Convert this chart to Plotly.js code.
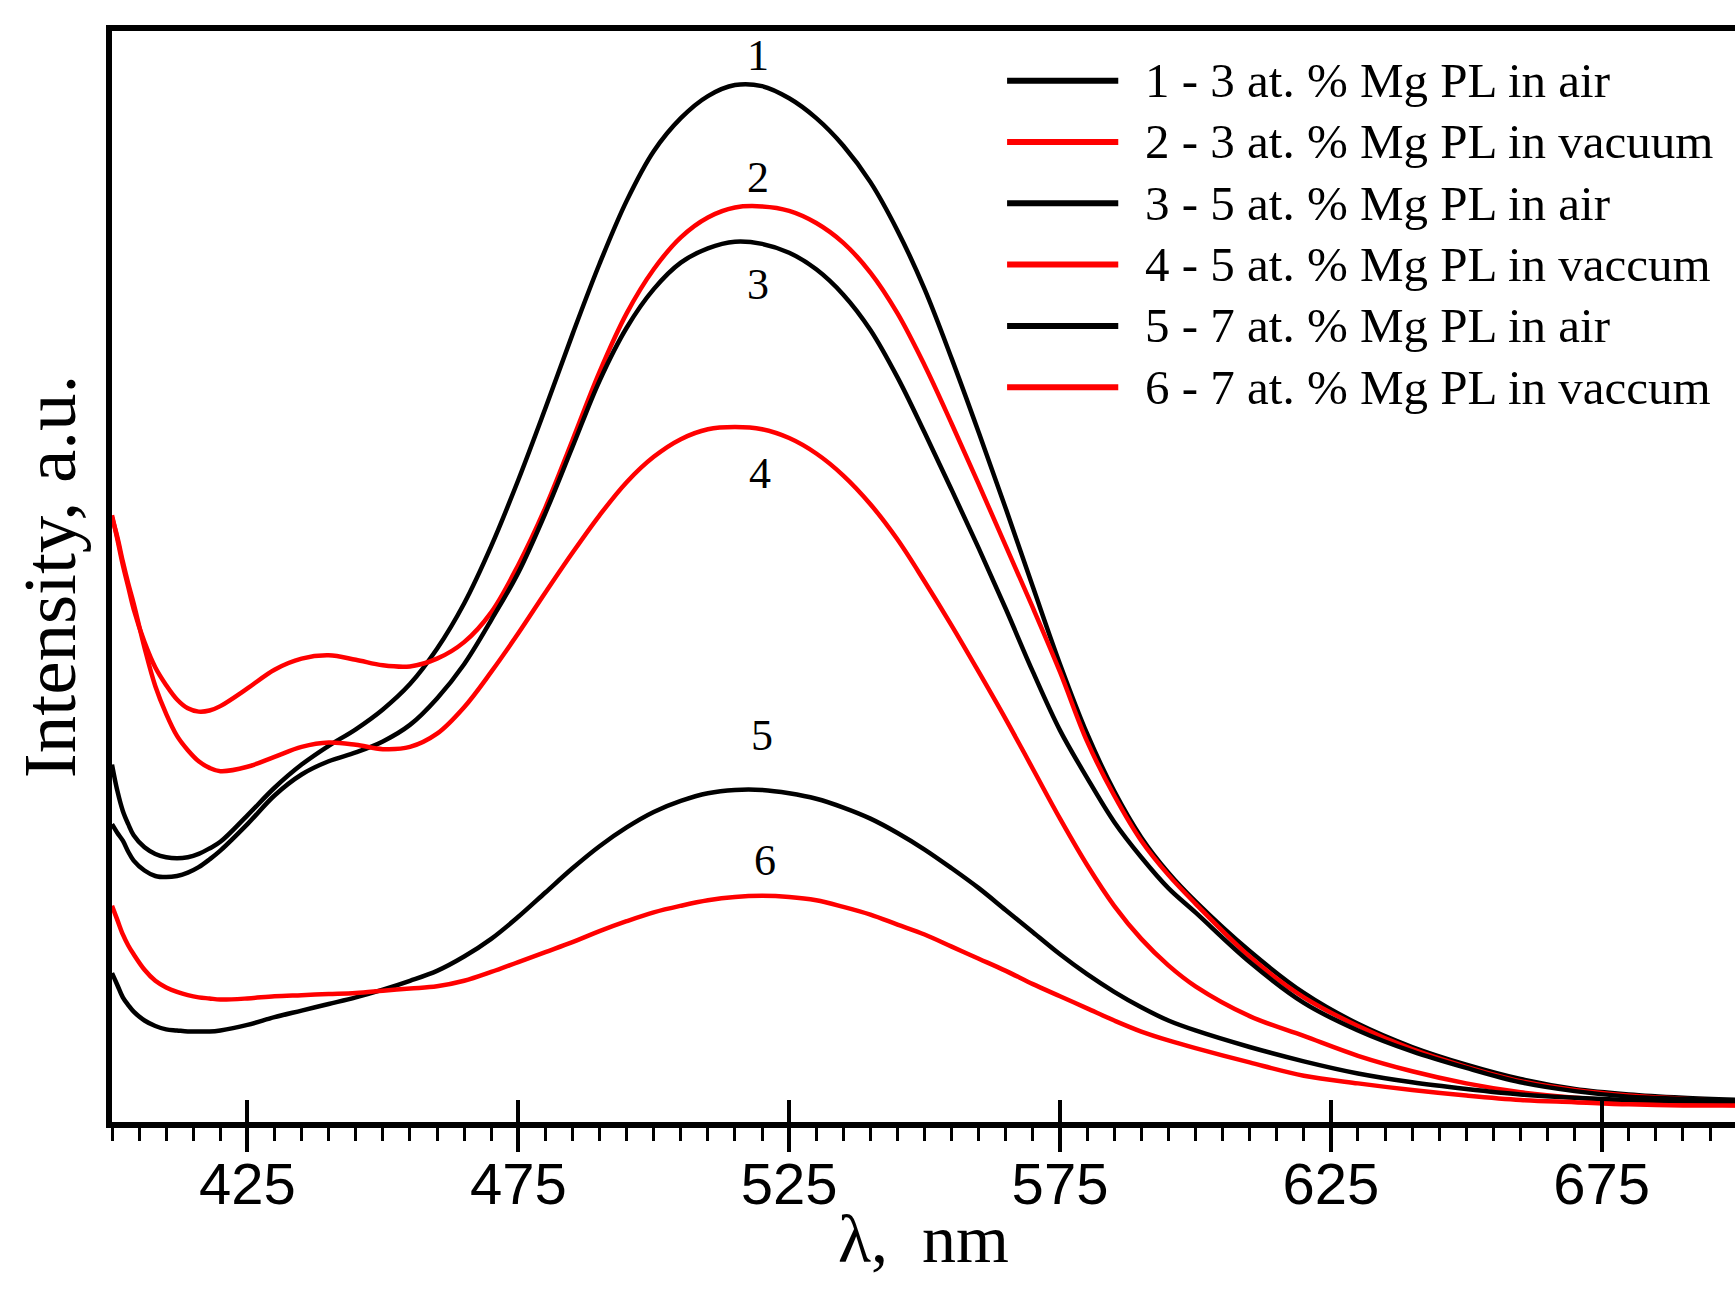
<!DOCTYPE html>
<html>
<head>
<meta charset="utf-8">
<script src="https://cdn.plot.ly/plotly-3.0.1.min.js"></script>
<style>html,body{margin:0;padding:0;background:#fff;}#chart{width:1735px;height:1302px;}</style>
</head>
<body>
<div id="chart"></div>
<script>
// Wavelength grid, nm
const wavelength = [400,401,402,403,404,406,408,410,412,414,416,418,420,425,430,435,440,445,450,455,460,465,470,475,480,485,490,495,500,505,510,515,520,525,530,535,540,545,550,555,560,565,570,575,580,585,590,595,600,610,620,630,640,650,660,670,680,690,700];

// Intensities, arbitrary units
const pl3Air = [324,300,282,270,260,249,243,240,239,240,243,248,254,278,303,324,341,356,374,397,429,470,522,582,647,714,778,835,880,910,930,940,939,928,910,885,852,808,755,692,625,556,485,415,352,300,258,226,200,155,117,89,68,52,39,30,25,22,20];
const pl3Vac = [550,528,505,485,465,435,412,396,383,375,372,373,377,393,410,420,423,419,414,413,420,435,462,505,557,618,680,733,773,802,820,829,830,826,815,797,770,733,686,633,578,522,466,408,345,296,255,224,198,150,113,87,66,50,37,29,24,21,18];
const pl5Air = [270,262,255,245,237,228,223,222,223,226,231,238,246,270,296,315,327,335,345,360,384,415,455,498,552,612,672,720,755,779,792,798,796,788,773,750,718,675,625,573,520,465,408,355,312,272,240,212,190,145,108,83,64,49,36,28,23,21,19];
const pl5Vac = [548,530,508,488,470,430,395,370,350,337,327,321,318,322,331,340,344,342,338,340,352,376,408,443,480,516,550,580,603,619,628,630,628,620,606,586,560,528,490,450,408,365,320,275,233,196,166,142,123,96,78,60,46,35,27,22,19,17,15];
const pl7Air = [135,124,113,106,100,92,87,84,83,82,82,82,83,88,95,101,107,113,120,128,137,150,166,186,208,230,250,267,281,291,298,301,301,298,293,285,275,262,247,230,212,192,172,152,134,118,104,92,83,68,55,44,36,30,25,22,20,19,18];
const pl7Vac = [196,183,170,160,152,138,128,122,118,115,113,112,111,112,114,115,116,117,119,121,123,128,136,145,154,163,173,182,190,196,201,204,205,204,201,195,188,179,170,159,148,137,125,114,103,92,82,74,67,54,42,35,29,24,20,18,16,15,15];

const seriesNames  = ["1 - 3 at. % Mg PL in air","2 - 3 at. % Mg PL in vacuum","3 - 5 at. % Mg PL in air","4 - 5 at. % Mg PL in vaccum","5 - 7 at. % Mg PL in air","6 - 7 at. % Mg PL in vaccum"];
const seriesData   = [pl3Air, pl3Vac, pl5Air, pl5Vac, pl7Air, pl7Vac];
const seriesColors = ["#000000","#ff0000","#000000","#ff0000","#000000","#ff0000"];

// Curve number labels
const curveLabels = ["1","2","3","4","5","6"];
const labelX = [519.3,519.3,519.3,519.6,520,520.5];
const labelY = [967,856,759,588,350,237];

const serif = "Liberation Serif, Times New Roman, serif";
const sans  = "Liberation Sans, Arial, sans-serif";

const traces = seriesData.map((y, i) => ({
  type: "scatter", mode: "lines", x: wavelength, y: y, name: seriesNames[i],
  line: {color: seriesColors[i], width: 4.5, shape: "spline", smoothing: 1},
  showlegend: false, hoverinfo: "x+y+name"
}));
// invisible companion trace so the overlaid axis (inward major ticks) is drawn
traces.push({type: "scatter", mode: "markers", x: [wavelength[0]], y: [pl3Air[0]],
  xaxis: "x2", yaxis: "y", marker: {opacity: 0}, showlegend: false, hoverinfo: "skip"});

// Custom legend (long line samples)
const shapes = [];
const annotations = [];
const legX0 = 0.5515, legX1 = 0.6200, legTextX = 0.6355;
const legY0 = 0.9545, legDY = 0.0562;
seriesNames.forEach((n, i) => {
  const yy = legY0 - i * legDY;
  shapes.push({type: "line", xref: "paper", yref: "paper", x0: legX0, x1: legX1, y0: yy, y1: yy,
               line: {color: seriesColors[i], width: 6}});
  annotations.push({xref: "paper", yref: "paper", x: legTextX, y: yy, xanchor: "left", yanchor: "middle",
                    text: n, showarrow: false, font: {family: serif, size: 49, color: "#000"}});
});
curveLabels.forEach((t, i) => {
  annotations.push({x: labelX[i], y: labelY[i], xref: "x", yref: "y", text: t, showarrow: false,
                    xanchor: "center", yanchor: "middle", font: {family: serif, size: 44, color: "#000"}});
});

const layout = {
  width: 1735, height: 1302,
  margin: {l: 112, r: 0, t: 31, b: 180, pad: 0},
  paper_bgcolor: "#fff", plot_bgcolor: "#fff",
  showlegend: false,
  xaxis: {
    range: [400, 699.6], tick0: 425, dtick: 50, tickmode: "linear",
    ticks: "outside", ticklen: 24, tickwidth: 4, tickcolor: "#000",
    minor: {dtick: 5, tick0: 400, ticks: "outside", ticklen: 13, tickwidth: 3, tickcolor: "#000"},
    showline: true, linewidth: 6, linecolor: "#000", mirror: true,
    showgrid: false, zeroline: false,
    tickfont: {family: sans, size: 58, color: "#000"},
    ticklabelstandoff: -18,
    title: {text: "λ,  nm\u00a0\u00a0", font: {family: serif, size: 68, color: "#000"}, standoff: 2},
    automargin: false
  },
  xaxis2: {
    overlaying: "x", anchor: "y", side: "bottom",
    range: [400, 699.6], tick0: 425, dtick: 50, tickmode: "linear",
    ticks: "inside", ticklen: 22, tickwidth: 4, tickcolor: "#000",
    showticklabels: false, showline: false, showgrid: false, zeroline: false
  },
  yaxis: {
    range: [0, 989], showticklabels: false, ticks: "", showgrid: false, zeroline: false,
    showline: true, linewidth: 6, linecolor: "#000", mirror: false,
    title: {text: "Intensity, a.u.", font: {family: serif, size: 75, color: "#000"}, standoff: 8},
    automargin: false
  },
  shapes: shapes,
  annotations: annotations
};

Plotly.newPlot("chart", traces, layout, {displayModeBar: false, staticPlot: true});
</script>
</body>
</html>
